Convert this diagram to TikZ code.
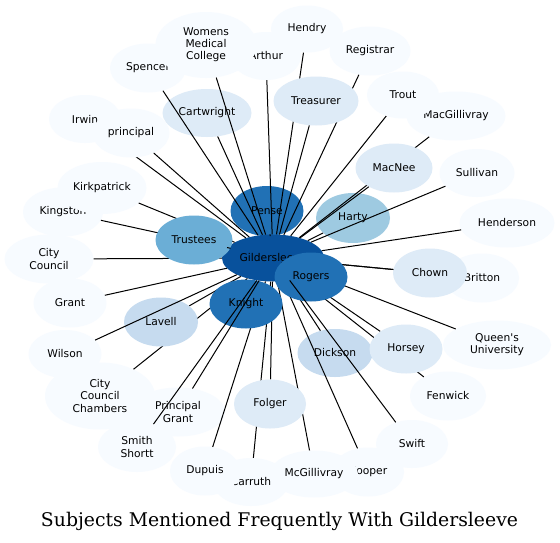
\documentclass[tikz,border=0pt]{standalone}
\usepackage{fontspec}
\usepackage{graphicx}
\usetikzlibrary{shapes.geometric}
\newfontfamily\lab{DejaVu Sans}
\newfontfamily\ttl{DejaVu Serif}
\definecolor{c0}{HTML}{F7FBFF}
\definecolor{c1}{HTML}{DEEBF7}
\definecolor{c2}{HTML}{C6DBEF}
\definecolor{c3}{HTML}{9ECAE1}
\definecolor{c4}{HTML}{6BAED6}
\definecolor{c5}{HTML}{2171B5}
\definecolor{c6}{HTML}{08519C}
\pgfdeclarelayer{lA}
\pgfdeclarelayer{lB}
\pgfdeclarelayer{lC}
\pgfsetlayers{lA,lB,lC,main}
\begin{document}
\begin{tikzpicture}[x=1pt,y=-1pt,
  bubble/.style 2 args={ellipse, minimum width=#1pt, minimum height=#2pt, inner sep=0pt, align=center, font=\lab\fontsize{10.7pt}{12.2pt}\selectfont, text=black},
  lnk/.style={draw=black, line width=1pt}]
\begin{pgfonlayer}{lA}
\fill[white] (0,0) rectangle (560,542);
\node[bubble={70}{48}, fill=c0] (arthur) at (266,56) {Arthur};
\node[bubble={76}{49}, fill=c0] (spencer) at (148,68) {Spencer};
\node[bubble={101}{66}, fill=c0] (wmc) at (206,45) {Womens\\Medical\\College};
\node[bubble={72}{47}, fill=c0] (hendry) at (307,29) {Hendry};
\node[bubble={81}{49}, fill=c0] (registrar) at (370,51) {Registrar};
\node[bubble={99}{49}, fill=c0] (macgill) at (456,116) {MacGillivray};
\node[bubble={72}{47}, fill=c0] (trout) at (403,95) {Trout};
\node[bubble={72}{48}, fill=c0] (irwin) at (85,119) {Irwin};
\node[bubble={80}{49}, fill=c0] (kingston) at (63,212) {Kingston};
\node[bubble={89}{52}, fill=c0] (kirk) at (102,188) {Kirkpatrick};
\node[bubble={89}{49}, fill=c0] (citycouncil) at (49,259) {City\\Council};
\node[bubble={73}{49}, fill=c0] (grant) at (70,303) {Grant};
\node[bubble={73}{48}, fill=c0] (wilson) at (65,354) {Wilson};
\node[bubble={110}{67}, fill=c0] (ccc) at (100,396) {City\\Council\\Chambers};
\node[bubble={94}{49}, fill=c0] (pgrant) at (178,412) {Principal\\Grant};
\node[bubble={78}{50}, fill=c0] (smith) at (137,447) {Smith\\Shortt};
\node[bubble={76}{48}, fill=c0] (carruth) at (251,482) {Carruth};
\node[bubble={70}{49}, fill=c0] (dupuis) at (205,471) {Dupuis};
\node[bubble={72}{49}, fill=c0] (cooper) at (368,472) {Cooper};
\node[bubble={88}{47}, fill=c0] (mcgill) at (314,474) {McGillivray};
\node[bubble={72}{48}, fill=c0] (swift) at (412,444) {Swift};
\node[bubble={76}{49}, fill=c0] (fenwick) at (448,396) {Fenwick};
\node[bubble={108}{49}, fill=c0] (queens) at (497,345) {Queen's\\University};
\node[bubble={74}{49}, fill=c0] (britton) at (482,278) {Britton};
\node[bubble={95}{49}, fill=c0] (henderson) at (507,223) {Henderson};
\node[bubble={75}{48}, fill=c0] (sullivan) at (477,173) {Sullivan};
\node[bubble={89}{48}, fill=c1] (cartwright) at (207,113) {Cartwright};
\node[bubble={73}{50}, fill=c5] (pense) at (267,211) {Pense};
\node[bubble={75}{48}, fill=c2] (dickson) at (335,353) {Dickson};
\node[bubble={102}{47}, fill=c6] (gilder) at (273,258) {Gildersleeve};
\node[bubble={74}{50}, fill=c3] (harty) at (353,218) {Harty};
\end{pgfonlayer}
\begin{pgfonlayer}{lC}
\node[bubble={77}{49}, fill=c4] (trustees) at (194,240) {Trustees};
\node[bubble={77}{49}, fill=c0] (principal) at (131,133) {principal};
\node[bubble={85}{49}, fill=c1] (treasurer) at (316,101) {Treasurer};
\node[bubble={77}{49}, fill=c1] (macnee) at (394,168) {MacNee};
\node[bubble={74}{49}, fill=c1] (chown) at (430,273) {Chown};
\node[bubble={73}{49}, fill=c1] (horsey) at (406,349) {Horsey};
\node[bubble={72}{49}, fill=c1] (folger) at (270,404) {Folger};
\node[bubble={74}{49}, fill=c2] (lavell) at (161,322) {Lavell};
\node[bubble={73}{49}, fill=c5] (knight) at (246,304) {Knight};
\node[bubble={73}{49}, fill=c5] (rogers) at (311,277) {Rogers};
\end{pgfonlayer}
\begin{pgfonlayer}{lB}
\foreach \t in {kirk,kingston,citycouncil,irwin,chown,britton,horsey,fenwick,queens,dickson,cooper,macgill,lavell,dupuis,folger,carruth,mcgill,hendry,registrar,ccc,knight,rogers}
  \draw[lnk] (gilder) -- (\t);
\end{pgfonlayer}
\foreach \t in {spencer,wmc,arthur,treasurer,trout,macnee,sullivan,henderson,harty,cartwright,principal,grant,wilson,smith,pgrant,swift,trustees,pense}
  \draw[lnk] (gilder) -- (\t);
\node (title) at (279.5,521) {\resizebox{477pt}{!}{\ttl Subjects Mentioned Frequently With Gildersleeve}};
\useasboundingbox (0,0) rectangle (560,542);
\end{tikzpicture}
\end{document}
